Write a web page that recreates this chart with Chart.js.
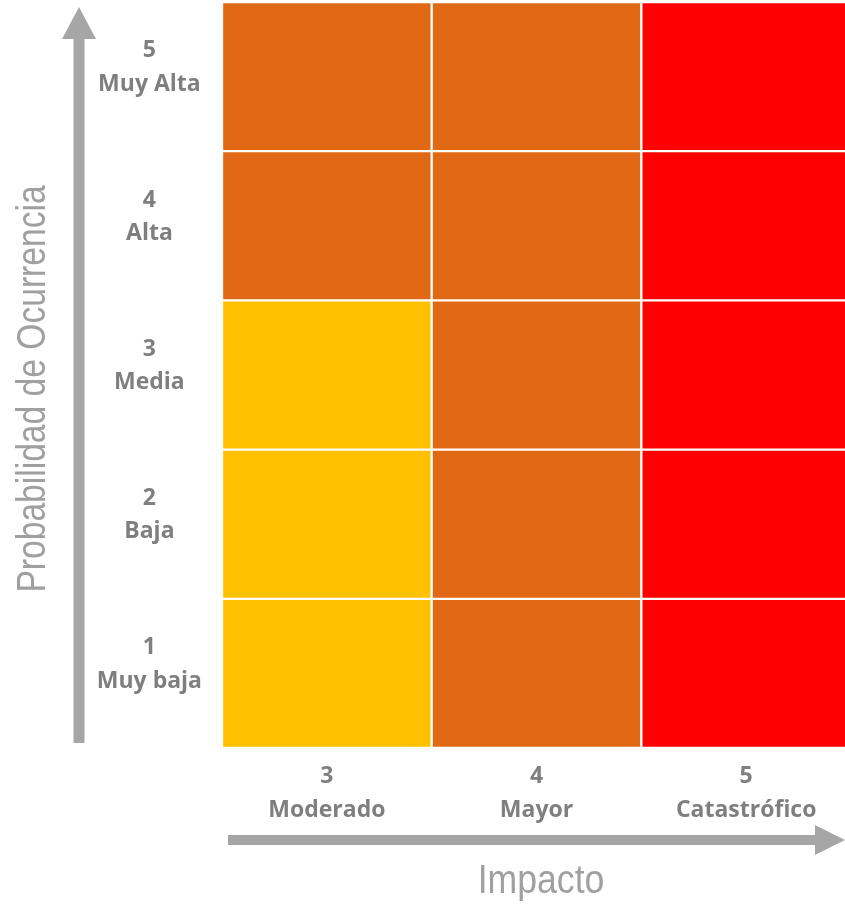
<!DOCTYPE html>
<html lang="es">
<head>
<meta charset="utf-8">
<title>Matriz de riesgo</title>
<script src="https://cdn.jsdelivr.net/npm/chart.js@4.4.1/dist/chart.umd.min.js"></script>
<style>
  html, body { margin: 0; padding: 0; background: #fff; overflow: hidden; }
  canvas { display: block; }
</style>
</head>
<body>
<!-- el lienzo es algo mas ancho que la ventana: la matriz queda cortada a la derecha como en el original -->
<canvas id="riskChart" width="851" height="905"></canvas>
<script>
// categorias del eje X (impacto) y del eje Y (probabilidad)
const impactos = ['3', '4', '5'];
const impactoNombres = ['Moderado', 'Mayor', 'Catastrófico'];
const probabilidades = ['1', '2', '3', '4', '5'];
const probabilidadNombres = ['Muy baja', 'Baja', 'Media', 'Alta', 'Muy Alta'];

// nivel de riesgo de cada celda, una fila por probabilidad (columnas = impacto 3, 4, 5)
const nivelProb1 = [1, 2, 3];
const nivelProb2 = [1, 2, 3];
const nivelProb3 = [1, 2, 3];
const nivelProb4 = [2, 2, 3];
const nivelProb5 = [2, 2, 3];
const niveles = [nivelProb1, nivelProb2, nivelProb3, nivelProb4, nivelProb5];

const coloresNivel = { 1: '#FFC000', 2: '#E16916', 3: '#FF0000' };
const grisTexto = '#7F7F7F';
const grisFlecha = '#A6A6A6';

const decoracion = {
    id: 'decoracion',
    afterDraw(chart) {
        const c = chart.ctx;
        c.save();
        c.fillStyle = grisFlecha;

        // flecha vertical (probabilidad)
        const vx = 79;
        c.fillRect(vx - 5.5, 38, 11, 743 - 38);
        c.beginPath();
        c.moveTo(vx, 7);
        c.lineTo(vx + 17, 39);
        c.lineTo(vx - 17, 39);
        c.closePath();
        c.fill();

        // flecha horizontal (impacto)
        const hy = 840;
        c.fillRect(228, hy - 5, 816 - 228, 10);
        c.beginPath();
        c.moveTo(845, hy);
        c.lineTo(815, hy - 15);
        c.lineTo(815, hy + 15);
        c.closePath();
        c.fill();

        // titulos de los ejes
        c.fillStyle = '#A0A0A0';
        c.font = '40px "Liberation Sans", Arial, sans-serif';
        c.textAlign = 'center';
        c.textBaseline = 'alphabetic';

        c.save();
        c.translate(45, 389);
        c.rotate(-Math.PI / 2);
        c.scale(0.84, 1);
        c.fillText('Probabilidad de Ocurrencia', 0, 0);
        c.restore();

        c.save();
        c.translate(541, 893);
        c.scale(0.89, 1);
        c.fillText('Impacto', 0, 0);
        c.restore();

        c.restore();
    }
};

const datasets = probabilidades.map((p, i) => ({
    label: 'Probabilidad ' + p,
    data: impactos.map(() => 1),
    backgroundColor: niveles[i].map(n => coloresNivel[n]),
    borderColor: 'rgba(255, 255, 255, 0.85)',
    borderWidth: 1.5,
    borderSkipped: false,
    barPercentage: 1,
    categoryPercentage: 1
}));

new Chart(document.getElementById('riskChart'), {
    type: 'bar',
    data: {
        labels: impactos,
        datasets: datasets
    },
    options: {
        responsive: false,
        animation: false,
        layout: {
            padding: { top: 2, right: 0, left: 0, bottom: 0 }
        },
        scales: {
            x: {
                stacked: true,
                grid: { display: false, drawTicks: false },
                border: { display: false },
                afterFit(scale) {
                    scale.height = 157;
                    scale.paddingLeft = 0;
                    scale.paddingRight = 0;
                },
                ticks: {
                    autoSkip: false,
                    maxRotation: 0,
                    padding: 12,
                    color: grisTexto,
                    font: { family: '"Open Sans", sans-serif', size: 23, weight: 'bold', lineHeight: 1.45 },
                    callback: (value, i) => [impactos[i], impactoNombres[i]]
                }
            },
            y: {
                stacked: true,
                min: 0,
                max: 5,
                grid: { display: false, drawTicks: false },
                border: { display: false },
                afterFit(scale) {
                    scale.width = 222;
                    scale.paddingTop = 0;
                    scale.paddingBottom = 0;
                },
                afterBuildTicks(scale) {
                    scale.ticks = probabilidades.map((p, i) => ({ value: i + 0.5 }));
                },
                ticks: {
                    crossAlign: 'center',
                    padding: 20,
                    labelOffset: -9,
                    color: grisTexto,
                    font: { family: '"Open Sans", sans-serif', size: 23, weight: 'bold', lineHeight: 1.45 },
                    callback: (value) => {
                        const i = Math.floor(value);
                        return [probabilidades[i], probabilidadNombres[i]];
                    }
                }
            }
        },
        plugins: {
            legend: { display: false },
            tooltip: { enabled: false }
        }
    },
    plugins: [decoracion]
});
</script>
</body>
</html>
